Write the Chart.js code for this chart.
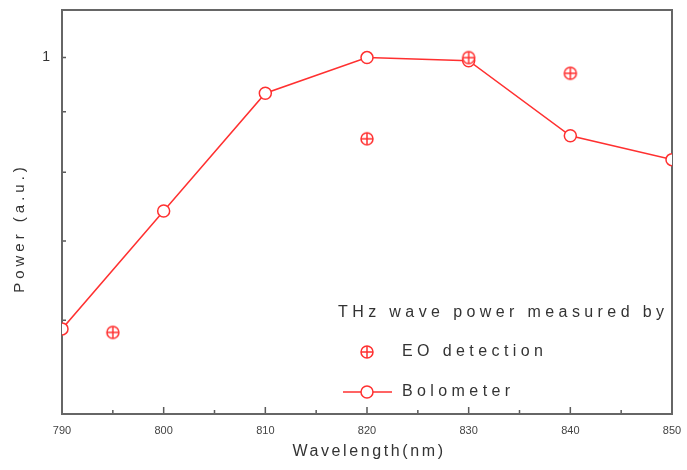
<!DOCTYPE html>
<html>
<head>
<meta charset="utf-8">
<script src="https://cdn.jsdelivr.net/npm/chart.js@4.4.1/dist/chart.umd.min.js"></script>
<style>
  body { margin: 0; background: #fff; }
  #wrap { width: 687px; height: 470px; }
</style>
</head>
<body>
<div id="wrap"><canvas id="chart" width="687" height="470"></canvas></div>
<script>
// values (y axis is logarithmic)
const bolometerWavelengths = [790, 800, 810, 820, 830, 840, 850];
const bolometerPower = [0.59, 0.742, 0.933, 1.0, 0.994, 0.859, 0.82];
const eoWavelengths = [795, 820, 830, 840];
const eoPower = [0.586, 0.854, 1.0, 0.97];
const xMajorTicks = [790, 800, 810, 820, 830, 840, 850];
const xMinorTicks = [795, 805, 815, 825, 835, 845];
const yMinorTicks = [0.6, 0.7, 0.8, 0.9, 1];

const RED = "#ff3030";
const TEXT = "#333";
const FONT = "'Liberation Sans', Arial, sans-serif";

// circle with a plus inside, used as the EO point style
function makeEoMarker() {
  const c = document.createElement("canvas");
  c.width = 18;
  c.height = 18;
  const g = c.getContext("2d");
  g.strokeStyle = RED;
  g.lineWidth = 1.5;
  g.fillStyle = "#fff";
  g.beginPath();
  g.arc(9, 9, 6, 0, Math.PI * 2);
  g.fill();
  g.stroke();
  g.beginPath();
  g.moveTo(3, 9); g.lineTo(15, 9);
  g.moveTo(9, 3); g.lineTo(9, 15);
  g.stroke();
  return c;
}
const eoMarker = makeEoMarker();

function spacedText(ctx, text, x, y, size, spacing, align) {
  ctx.save();
  ctx.font = size + "px " + FONT;
  ctx.letterSpacing = spacing + "px";
  ctx.fillStyle = TEXT;
  ctx.textAlign = align || "left";
  ctx.textBaseline = "middle";
  ctx.fillText(text, x, y);
  ctx.restore();
}

const decorations = {
  id: "decorations",
  beforeDatasetsDraw(chart) {
    const ctx = chart.ctx;
    const a = chart.chartArea;
    const xs = chart.scales.x;
    const ys = chart.scales.y;
    ctx.save();
    ctx.strokeStyle = "#5a5a5a";
    ctx.lineWidth = 1.5;
    ctx.beginPath();
    xMajorTicks.forEach(v => {
      const px = xs.getPixelForValue(v);
      ctx.moveTo(px, a.bottom); ctx.lineTo(px, a.bottom - 7);
    });
    xMinorTicks.forEach(v => {
      const px = xs.getPixelForValue(v);
      ctx.moveTo(px, a.bottom); ctx.lineTo(px, a.bottom - 4);
    });
    yMinorTicks.forEach(v => {
      const py = ys.getPixelForValue(v);
      ctx.moveTo(a.left, py); ctx.lineTo(a.left + 4, py);
    });
    ctx.stroke();
    ctx.lineWidth = 2;
    ctx.strokeStyle = "#666";
    ctx.strokeRect(a.left, a.top, a.right - a.left, a.bottom - a.top);
    ctx.restore();
  },
  afterDraw(chart) {
    const ctx = chart.ctx;
    // axis titles
    spacedText(ctx, "Wavelength(nm)", 369, 452, 16, 2.6, "center");
    ctx.save();
    ctx.translate(20, 228);
    ctx.rotate(-Math.PI / 2);
    spacedText(ctx, "Power (a.u.)", 0, 0, 15, 4, "center");
    ctx.restore();

    // legend inside the plot
    spacedText(ctx, "THz wave power measured by", 338, 313, 16, 4.4);
    ctx.drawImage(eoMarker, 367 - 9, 352 - 9);
    spacedText(ctx, "EO detection", 402, 352, 16, 4.4);
    ctx.save();
    ctx.strokeStyle = RED;
    ctx.lineWidth = 1.5;
    ctx.beginPath();
    ctx.moveTo(343, 392); ctx.lineTo(392, 392);
    ctx.stroke();
    ctx.fillStyle = "#fff";
    ctx.beginPath();
    ctx.arc(367, 392, 6, 0, Math.PI * 2);
    ctx.fill();
    ctx.stroke();
    ctx.restore();
    spacedText(ctx, "Bolometer", 402, 392, 16, 4.4);
  }
};

new Chart(document.getElementById("chart"), {
  type: "line",
  data: {
    datasets: [
      {
        label: "Bolometer",
        data: bolometerWavelengths.map((w, i) => ({ x: w, y: bolometerPower[i] })),
        borderColor: RED,
        borderWidth: 1.5,
        showLine: true,
        pointStyle: "circle",
        pointRadius: 6,
        pointBorderWidth: 1.5,
        pointBorderColor: RED,
        pointBackgroundColor: "#fff",
        tension: 0,
        order: 2
      },
      {
        label: "EO detection",
        data: eoWavelengths.map((w, i) => ({ x: w, y: eoPower[i] })),
        showLine: false,
        pointStyle: eoMarker,
        pointRadius: 9,
        order: 1
      }
    ]
  },
  options: {
    responsive: false,
    animation: false,
    layout: { padding: { left: 0, top: 7, right: 15, bottom: 0 } },
    plugins: { legend: { display: false }, tooltip: { enabled: false } },
    scales: {
      x: {
        type: "linear",
        min: 790,
        max: 850,
        grid: { display: false, drawTicks: false },
        border: { display: false },
        ticks: {
          stepSize: 10,
          padding: 10,
          maxRotation: 0,
          autoSkip: false,
          color: "#444",
          font: { family: FONT, size: 11 }
        },
        afterFit(s) {
          s.height = 56;
          s.paddingLeft = 0;
          s.paddingRight = 0;
        }
      },
      y: {
        type: "logarithmic",
        min: 0.5,
        max: 1.097,
        grid: { display: false, drawTicks: false },
        border: { display: false },
        ticks: {
          padding: 12,
          color: "#333",
          font: { family: FONT, size: 14 },
          callback: v => (Math.abs(v - 1) < 1e-9 ? "1" : "")
        },
        afterFit(s) {
          s.width = 62;
          s.paddingTop = 0;
          s.paddingBottom = 0;
        }
      }
    }
  },
  plugins: [decorations]
});
</script>
</body>
</html>
